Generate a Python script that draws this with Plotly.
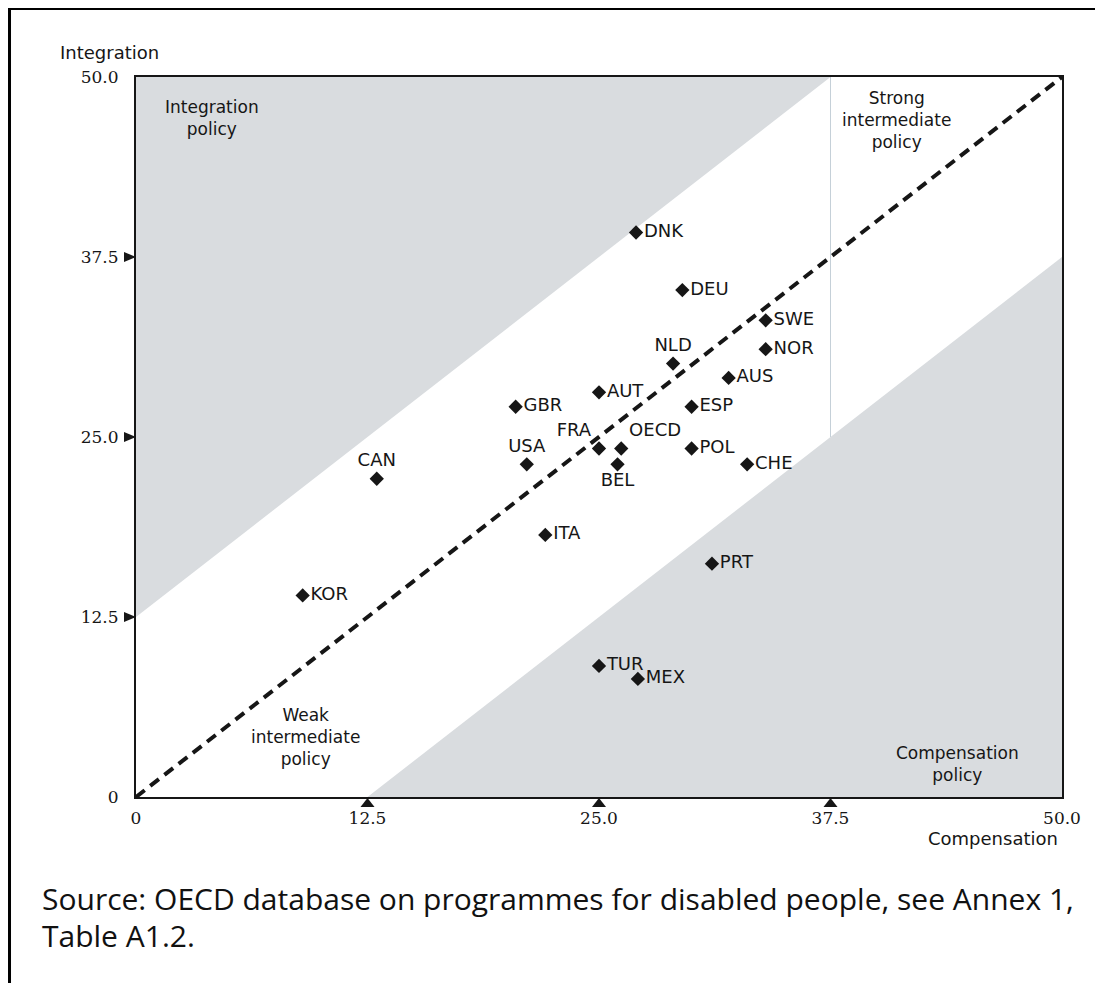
import plotly.graph_objects as go

# ---------------- data ----------------
countries = ["DNK", "DEU", "SWE", "NOR", "NLD", "AUS", "AUT", "GBR", "ESP", "FRA", "OECD",
             "POL", "USA", "BEL", "CHE", "CAN", "ITA", "PRT", "KOR", "TUR", "MEX"]
compensation = [27.0, 29.5, 34.0, 34.0, 29.0, 32.0, 25.0, 20.5, 30.0, 25.0, 26.2,
                30.0, 21.1, 26.0, 33.0, 13.0, 22.1, 31.1, 9.0, 25.0, 27.1]
integration = [39.2, 35.2, 33.1, 31.1, 30.1, 29.1, 28.1, 27.1, 27.1, 24.2, 24.2,
               24.2, 23.1, 23.1, 23.1, 22.1, 18.2, 16.2, 14.0, 9.1, 8.2]
label_pos = ["middle right", "middle right", "middle right", "middle right", "top center",
             "middle right", "middle right", "middle right", "middle right", "top left",
             "top right", "middle right", "top center", "bottom center", "middle right",
             "top center", "middle right", "middle right", "middle right", "middle right",
             "middle right"]

tick_vals = [0, 12.5, 25, 37.5, 50]
tick_text_x = ["0", "12.5", "25.0", "37.5", "50.0"]
tick_text_y = ["0", "12.5", "25.0", "37.5", "50.0"]
marked_ticks = [12.5, 25, 37.5]

# region boundaries
integration_region_x = [0, 0, 37.5]
integration_region_y = [12.5, 50, 50]
compensation_region_x = [12.5, 50, 50]
compensation_region_y = [0, 0, 37.5]
strong_line_x = [37.5, 37.5]
strong_line_y = [25, 50]
diag_x = [0, 50]
diag_y = [0, 50]

region_labels = [
    ("Integration<br>policy", 4.1, 47.15),
    ("Strong<br>intermediate<br>policy", 41.07, 47.0),
    ("Weak<br>intermediate<br>policy", 9.13, 4.17),
    ("Compensation<br>policy", 44.36, 2.3),
]

GRAY = "#d9dcdf"
INK = "#161616"
SANS = "DejaVu Sans"
SERIF = "DejaVu Serif"

fig = go.Figure()

fig.add_trace(go.Scatter(x=integration_region_x, y=integration_region_y, fill="toself",
                         fillcolor=GRAY, line=dict(width=0), mode="lines",
                         hoverinfo="skip", showlegend=False))
fig.add_trace(go.Scatter(x=compensation_region_x, y=compensation_region_y, fill="toself",
                         fillcolor=GRAY, line=dict(width=0), mode="lines",
                         hoverinfo="skip", showlegend=False))
fig.add_trace(go.Scatter(x=strong_line_x, y=strong_line_y, mode="lines",
                         line=dict(color="#c5d0d8", width=1),
                         hoverinfo="skip", showlegend=False))
fig.add_trace(go.Scatter(x=diag_x, y=diag_y, mode="lines",
                         line=dict(color=INK, width=4, dash="11px,7px"),
                         hoverinfo="skip", showlegend=False))
fig.add_trace(go.Scatter(x=compensation, y=integration, mode="markers+text",
                         text=countries, textposition=label_pos,
                         textfont=dict(family=SANS, size=18, color=INK),
                         marker=dict(symbol="diamond", size=11, color=INK),
                         cliponaxis=False, showlegend=False))

annotations = []
for t, x, y in region_labels:
    annotations.append(dict(x=x, y=y, xref="x", yref="y", text=t, showarrow=False,
                            xanchor="center", yanchor="middle", align="center",
                            font=dict(family=SANS, size=17, color=INK)))

annotations.append(dict(x=-0.0842, y=1.0347, xref="paper", yref="paper", text="Integration",
                        showarrow=False, xanchor="left", yanchor="middle",
                        font=dict(family=SANS, size=18, color=INK)))
annotations.append(dict(x=0.9978, y=-0.0583, xref="paper", yref="paper", text="Compensation",
                        showarrow=False, xanchor="right", yanchor="middle",
                        font=dict(family=SANS, size=18, color=INK)))
annotations.append(dict(x=-0.1037, y=-0.1403, xref="paper", yref="paper",
                        text="Source: OECD database on programmes for disabled people, see Annex 1,",
                        showarrow=False, xanchor="left", yanchor="middle",
                        font=dict(family="Open Sans", size=30, color="#111111")))
annotations.append(dict(x=-0.1037, y=-0.193, xref="paper", yref="paper",
                        text="Table A1.2.",
                        showarrow=False, xanchor="left", yanchor="middle",
                        font=dict(family="Open Sans", size=30, color="#111111")))

shapes = []
for v in marked_ticks:
    # triangle under the x axis, pointing up
    shapes.append(dict(type="path", xref="x", yref="paper", xsizemode="pixel", ysizemode="pixel",
                       xanchor=v, yanchor=0, path="M -7,-10 L 7,-10 L 0,-1 Z",
                       fillcolor=INK, line=dict(width=0), layer="above"))
    # triangle left of the y axis, pointing right
    shapes.append(dict(type="path", xref="paper", yref="y", xsizemode="pixel", ysizemode="pixel",
                       xanchor=0, yanchor=v, path="M -12,-5 L -12,5 L 0,0 Z",
                       fillcolor=INK, line=dict(width=0), layer="above"))
# outer frame
shapes.append(dict(type="rect", xref="paper", yref="paper", x0=-0.1366, x1=1.2,
                   y0=-0.5, y1=1.0951, line=dict(color="#000000", width=3),
                   fillcolor="rgba(0,0,0,0)", layer="above"))

fig.update_layout(
    width=1095, height=975, autosize=False,
    margin=dict(l=128, r=41, t=69, b=186),
    paper_bgcolor="white", plot_bgcolor="white",
    annotations=annotations, shapes=shapes,
    showlegend=False,
)
fig.update_xaxes(range=[0, 50], tickvals=tick_vals, ticktext=tick_text_x,
                 showgrid=False, zeroline=False, showline=True, mirror=True,
                 linecolor=INK, linewidth=2, ticks="", ticklabelstandoff=5,
                 tickfont=dict(family=SERIF, size=17, color=INK))
fig.update_yaxes(range=[0, 50], tickvals=tick_vals, ticktext=tick_text_y,
                 showgrid=False, zeroline=False, showline=True, mirror=True,
                 linecolor=INK, linewidth=2, ticks="outside", ticklen=12,
                 tickcolor="rgba(0,0,0,0)",
                 tickfont=dict(family=SERIF, size=17, color=INK))

fig.write_html("out.html")
